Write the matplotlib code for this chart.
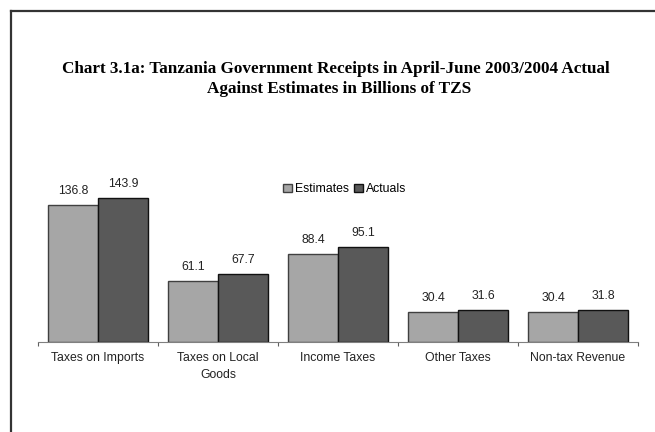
import matplotlib
matplotlib.use("Agg")
import matplotlib.pyplot as plt
from matplotlib.lines import Line2D
import numpy as np

categories = ["Taxes on Imports", "Taxes on Local\nGoods", "Income Taxes", "Other Taxes", "Non-tax Revenue"]
estimates = [136.8, 61.1, 88.4, 30.4, 30.4]
actuals = [143.9, 67.7, 95.1, 31.6, 31.8]
series_names = ["Estimates", "Actuals"]

W, H = 655, 432
fig = plt.figure(figsize=(W / 100, H / 100), dpi=100)
fig.patch.set_facecolor("white")

# frame lines (left and top)
fig.add_artist(Line2D([11 / W, 11 / W], [1 - 11 / H, 0], transform=fig.transFigure, color="#333333", lw=1.6))
fig.add_artist(Line2D([11 / W, 1], [1 - 11 / H, 1 - 11 / H], transform=fig.transFigure, color="#333333", lw=1.6))

fig.text(336 / W, 1 - 69 / H, "Chart 3.1a: Tanzania Government Receipts in April-June 2003/2004 Actual",
         ha="center", va="center", family="Liberation Serif", fontweight="bold", fontsize=12.3)
fig.text(339 / W, 1 - 89 / H, "Against Estimates in Billions of TZS",
         ha="center", va="center", family="Liberation Serif", fontweight="bold", fontsize=12.3)

ax = fig.add_axes([38 / W, (H - 342) / H, 600 / W, 160 / H])
x = np.arange(len(categories))
w = 50 / 120
b1 = ax.bar(x - w / 2, estimates, w, color="#A6A6A6", edgecolor="#404040", lw=1.0, label=series_names[0])
b2 = ax.bar(x + w / 2, actuals, w, color="#595959", edgecolor="#111111", lw=1.0, label=series_names[1])

for bars, vals in ((b1, estimates), (b2, actuals)):
    for r, v in zip(bars, vals):
        ax.text(r.get_x() + r.get_width() / 2, v + 8, f"{v:.1f}", ha="center", va="bottom",
                family="Liberation Sans", fontsize=8.8, color="#222222")

ax.set_xlim(-0.5, len(categories) - 0.5)
ax.set_ylim(0, 160)
for s in ("top", "right", "left"):
    ax.spines[s].set_visible(False)
ax.spines["bottom"].set_color("#808080")
ax.set_yticks([])
ax.set_xticks(np.arange(len(categories) + 1) - 0.5)
ax.set_xticklabels([])
ax.tick_params(axis="x", length=3, color="#606060", direction="out")
for i, c in enumerate(categories):
    ax.text(i, -10, c, ha="center", va="top", family="Liberation Sans", fontsize=8.8,
            color="#222222", linespacing=1.55)

leg = ax.legend(loc="upper left", bbox_to_anchor=((277 - 38) / 600, 1.03), ncol=2, frameon=False,
                prop={"family": "Liberation Sans", "size": 8.8}, handlelength=0.7, handleheight=0.7,
                handletextpad=0.3, columnspacing=0.4, borderpad=0)

fig.savefig("out.png", dpi=100, facecolor="white")
